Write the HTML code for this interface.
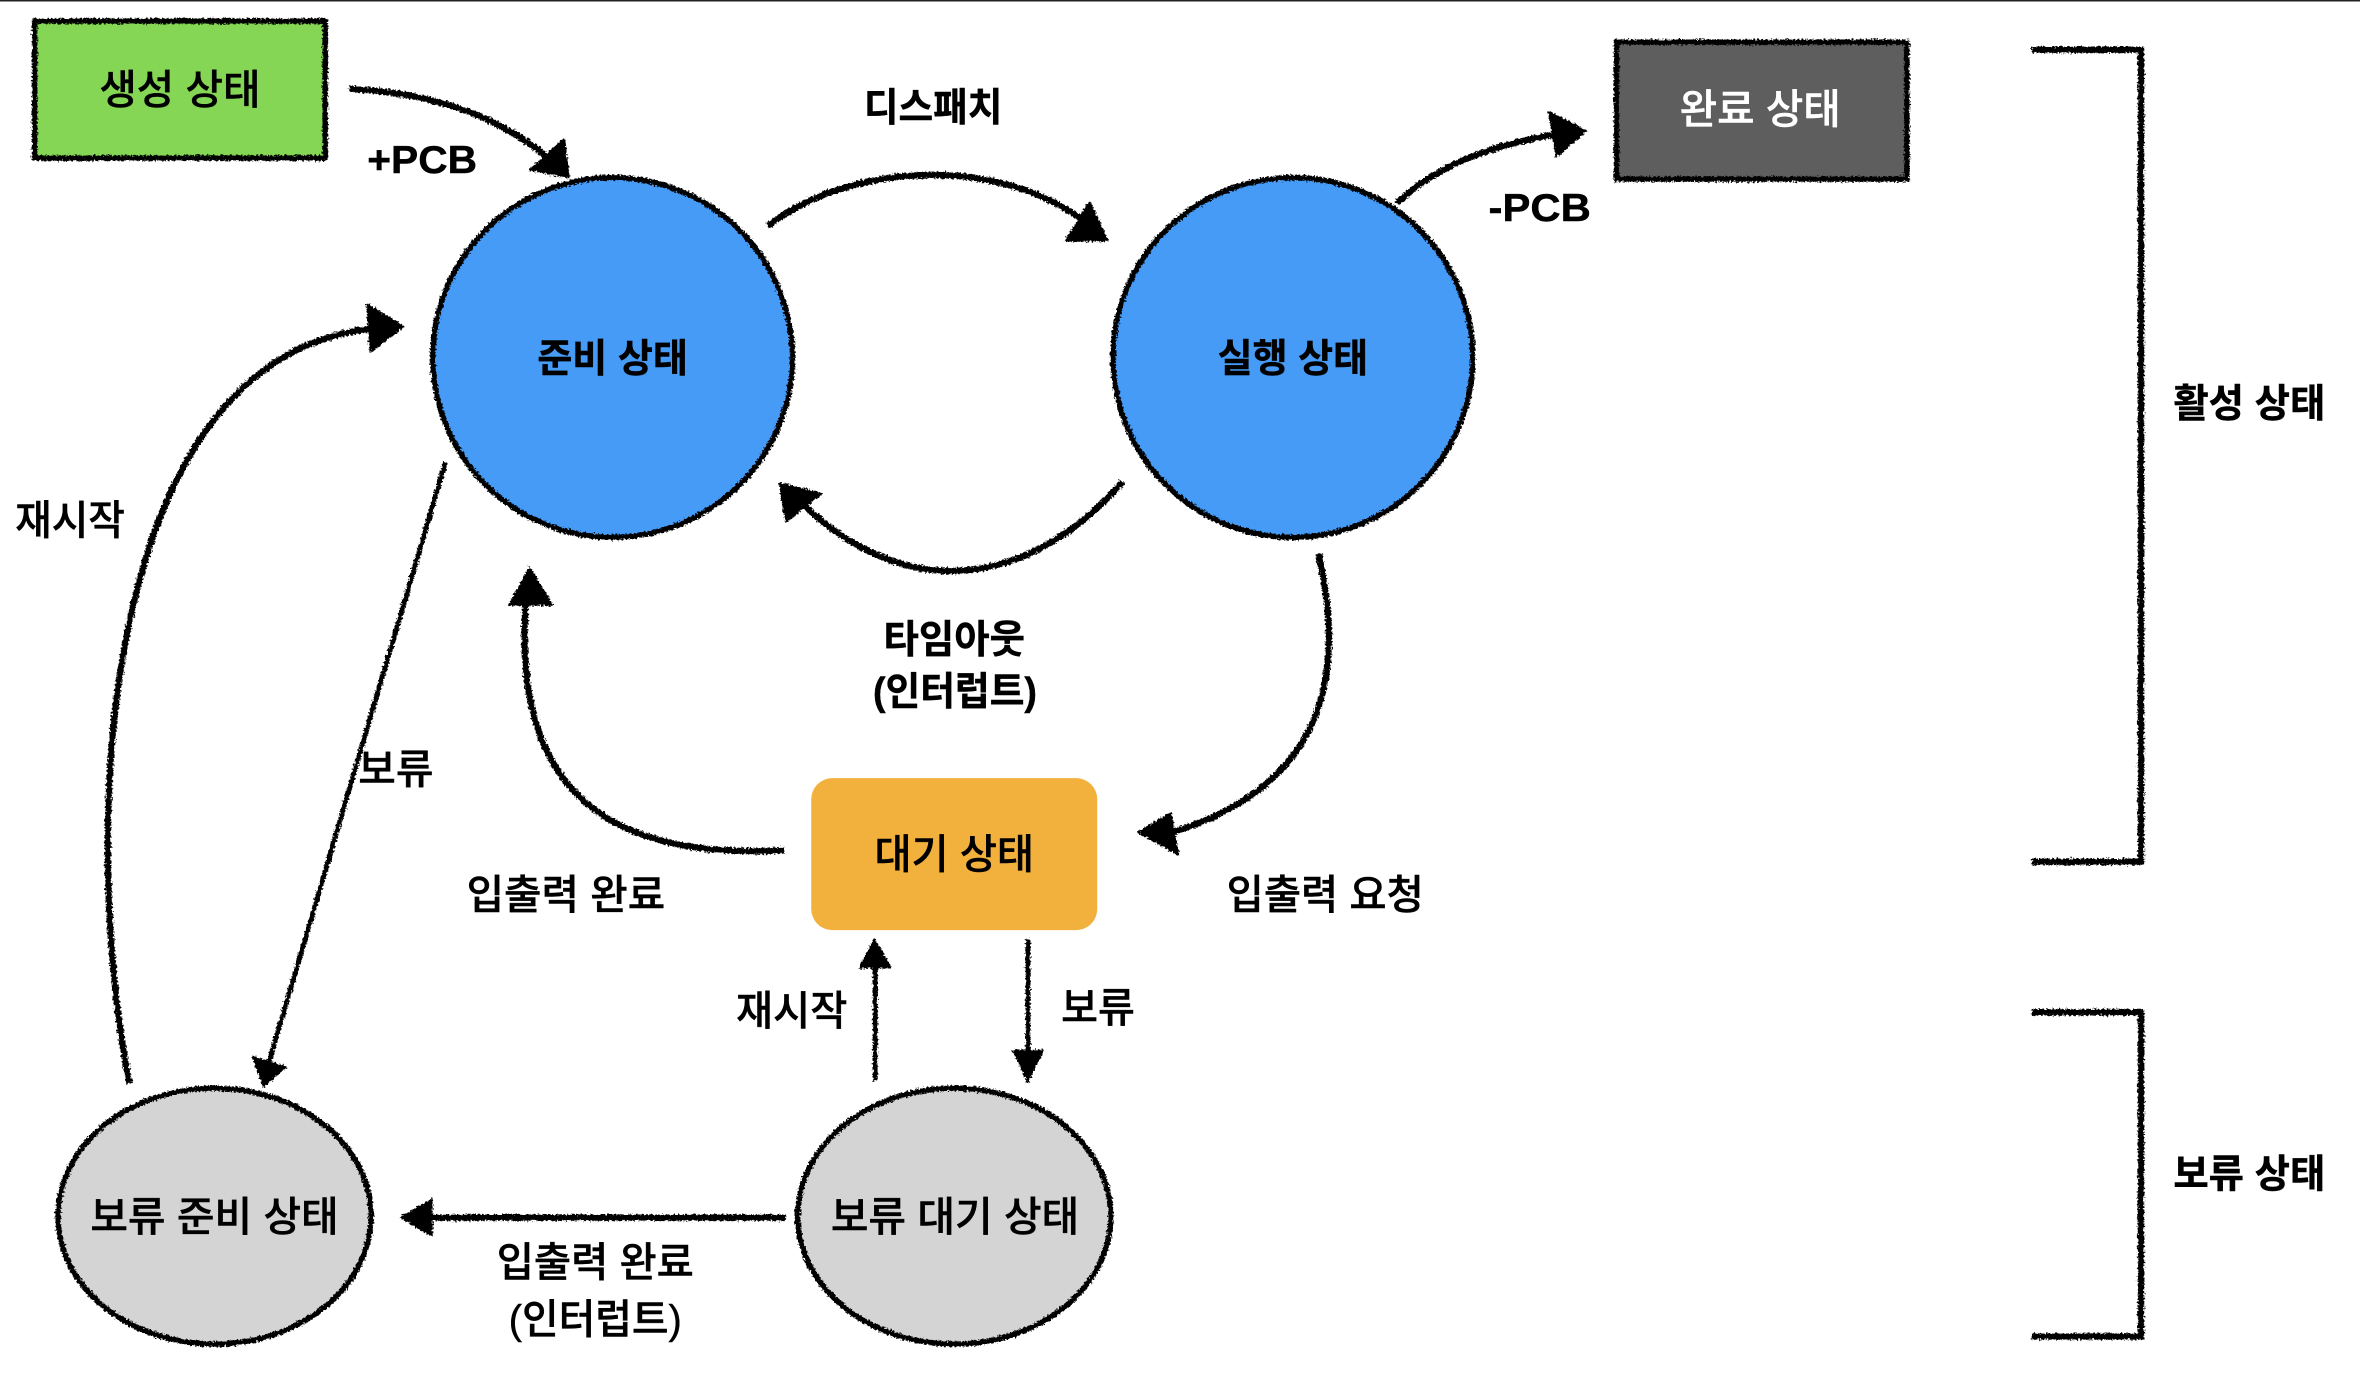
<!DOCTYPE html>
<html lang="ko"><head><meta charset="utf-8"><title>프로세스 상태</title>
<style>
html,body{margin:0;padding:0;background:#fff;width:2360px;height:1380px;overflow:hidden}
svg{display:block}
text{font-family:"Liberation Sans","Noto Sans CJK KR",sans-serif;fill:#000;text-anchor:middle;stroke:#000;stroke-width:.3}
.r{font-size:27px;font-weight:500}
.b{font-size:26px;font-weight:700}
.s{fill:none;stroke:#000;stroke-width:4.2;stroke-linecap:butt}
.t{stroke-width:3.2}
.o{stroke:#000;stroke-width:3.6}
.h{fill:#000;stroke:#000;stroke-width:1;stroke-linejoin:round}
</style></head><body>
<svg xmlns="http://www.w3.org/2000/svg" width="2360" height="1380" viewBox="0 0 1568 916.9">
<defs><filter id="rough" x="0" y="0" width="1568" height="917" filterUnits="userSpaceOnUse" color-interpolation-filters="sRGB">
<feTurbulence type="fractalNoise" baseFrequency="0.75" numOctaves="2" seed="3"/>
<feDisplacementMap in="SourceGraphic" scale="3.5" xChannelSelector="R" yChannelSelector="G"/>
</filter></defs>
<rect width="1568" height="916.9" fill="#fff"/>
<rect width="1568" height="1" fill="#222"/>
<g filter="url(#rough)">
<rect class="o" x="23" y="14" width="193" height="91" fill="#84d654"/>
<rect class="o" x="1074" y="28" width="193" height="91" fill="#5e5e5e"/>
<circle class="o" cx="407" cy="237.500" r="119.500" fill="#469bf7"/>
<circle class="o" cx="859" cy="237.500" r="119.500" fill="#469bf7"/>
<ellipse class="o" cx="142.500" cy="808" rx="104" ry="85" fill="#d4d4d4"/>
<ellipse class="o" cx="634" cy="808" rx="104" ry="85" fill="#d4d4d4"/>
<path class="s" d="M232 59C290 62 335 78 370 110"/>
<polygon class="h" points="378,118 375,92 352,113"/>
<path class="s" d="M510 150C570 105 670 105 724 150"/>
<polygon class="h" points="724,134 708,160 736,160"/>
<path class="s" d="M928 135C960 105 1000 95 1040 88"/>
<polygon class="h" points="1029,74 1054,87 1034,104"/>
<path class="s" d="M746 320C690 384 608 408 530 332"/>
<polygon class="h" points="518,321 546,328 522,347"/>
<path class="s" d="M876 368C895 450 880 525 772 555"/>
<polygon class="h" points="756,553 778,540 783,568"/>
<path class="s" d="M521 565C420 570 336 540 350 392"/>
<polygon class="h" points="352,377 338,402 367,402"/>
<path class="s" d="M86 720C54 560 62 232 252 218"/>
<polygon class="h" points="268,217 244,202 246,234"/>
<path class="s t" d="M296 307L178 708"/>
<polygon class="h" points="175,722 168,702 190,709"/>
<path class="s t" d="M581.500 718V638"/>
<polygon class="h" points="581,624 571,643 592,643"/>
<path class="s t" d="M683 624V705"/>
<polygon class="h" points="683,719 673,698 693,698"/>
<path class="s" d="M522 809H280"/>
<polygon class="h" points="266,809 287,797 287,821"/>
<path class="s" d="M1350 33H1422.500V572.500H1350"/>
<path class="s" d="M1350 672.500H1422.500V888H1350"/>
</g>
<rect x="539" y="517" width="190" height="101" rx="14" fill="#f2b03d"/>
<text class="r" x="119.500" y="69" textLength="107" lengthAdjust="spacingAndGlyphs">생성 상태</text>
<text class="b" x="280.500" y="115" textLength="73" lengthAdjust="spacingAndGlyphs">+PCB</text>
<text class="b" x="620" y="80.500" textLength="92" lengthAdjust="spacingAndGlyphs">디스패치</text>
<text class="b" x="1023" y="147" textLength="68" lengthAdjust="spacingAndGlyphs">-PCB</text>
<text class="r" x="1169.500" y="82" textLength="107" lengthAdjust="spacingAndGlyphs" style="fill:#fff;stroke:#fff">완료 상태</text>
<text class="b" x="407" y="247" textLength="100" lengthAdjust="spacingAndGlyphs">준비 상태</text>
<text class="b" x="859" y="247" textLength="100" lengthAdjust="spacingAndGlyphs">실행 상태</text>
<text class="r" x="46.500" y="355" textLength="73" lengthAdjust="spacingAndGlyphs">재시작</text>
<text class="b" x="634" y="434" textLength="94" lengthAdjust="spacingAndGlyphs">타임아웃</text>
<text class="b" x="634.500" y="468.500" textLength="109" lengthAdjust="spacingAndGlyphs">(인터럽트)</text>
<text class="r" x="263" y="520.500" textLength="50" lengthAdjust="spacingAndGlyphs">보류</text>
<text class="r" x="634" y="577" textLength="106" lengthAdjust="spacingAndGlyphs">대기 상태</text>
<text class="r" x="376" y="604" textLength="132" lengthAdjust="spacingAndGlyphs">입출력 완료</text>
<text class="r" x="880.500" y="604" textLength="131" lengthAdjust="spacingAndGlyphs">입출력 요청</text>
<text class="r" x="526" y="681" textLength="74" lengthAdjust="spacingAndGlyphs">재시작</text>
<text class="r" x="729.500" y="679" textLength="49" lengthAdjust="spacingAndGlyphs">보류</text>
<text class="r" x="142.500" y="818" textLength="165" lengthAdjust="spacingAndGlyphs">보류 준비 상태</text>
<text class="r" x="634.500" y="818" textLength="165" lengthAdjust="spacingAndGlyphs">보류 대기 상태</text>
<text class="r" x="395.500" y="848" textLength="131" lengthAdjust="spacingAndGlyphs">입출력 완료</text>
<text class="r" x="395.500" y="886" textLength="115" lengthAdjust="spacingAndGlyphs">(인터럽트)</text>
<text class="b" x="1494.500" y="277" textLength="101" lengthAdjust="spacingAndGlyphs">활성 상태</text>
<text class="b" x="1494.500" y="789" textLength="101" lengthAdjust="spacingAndGlyphs">보류 상태</text>
</svg>
</body></html>
